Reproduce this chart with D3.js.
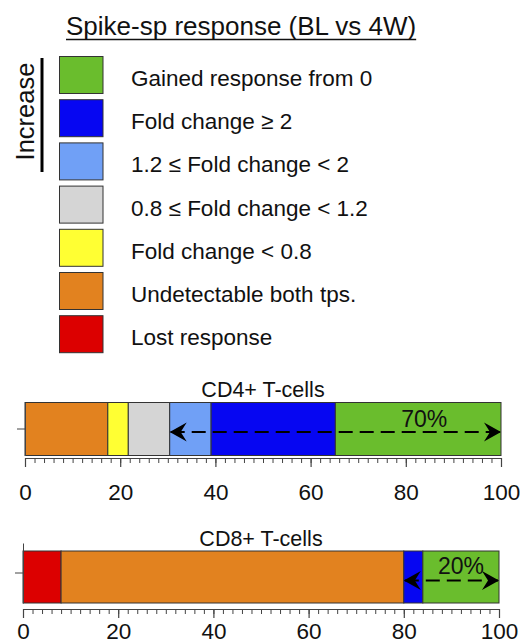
<!DOCTYPE html>
<html>
<head>
<meta charset="utf-8">
<script src="https://cdn.jsdelivr.net/npm/d3@7"></script>
<style>
  body { margin: 0; background: #fff; }
  svg { display: block; font-family: "Liberation Sans", Arial, sans-serif; }
</style>
</head>
<body>
<div id="container"></div>
<script>
/* DATA */
const chartTitle = "Spike-sp response (BL vs 4W)";
const categories = ["gained", "fc2", "fc12", "fc08", "fcLow", "undet", "lost"];
const legendLabels = ["Gained response from 0", "Fold change \u2265 2", "1.2 \u2264 Fold change < 2",
  "0.8 \u2264 Fold change < 1.2", "Fold change < 0.8", "Undetectable both tps.", "Lost response"];
const colors = ["#6abd2d", "#0606f2", "#70a0f6", "#d5d5d5", "#ffff33", "#e2821f", "#dc0000"];
const increaseKeys = ["gained", "fc2", "fc12"];

const panels = ["CD4+ T-cells", "CD8+ T-cells"];
// % of participants per category, same order as categories
const cd4Values = [34.8, 26.1, 8.7, 8.7, 4.3, 17.4, 0];
const cd8Values = [16, 4, 0, 0, 0, 72, 8];
const increaseLabels = ["70%", "20%"];
const xTicks = [0, 20, 40, 60, 80, 100];

/* CONSTANTS */
const width = 520, height = 644;
const layout = [
  { x0: 25, x1: 501, top: 402.5, h: 53, axisY: 458, titleY: 397, tickY: 499.5, arrowDy: 3, labelDy: -5, labelDx: 6 },
  { x0: 23, x1: 499, top: 551, h: 52, axisY: 609, titleY: 546, tickY: 639, arrowDy: 3.5, labelDy: -7, labelDx: 0 }
];

const svg = d3.select("#container")
  .append("svg")
  .attr("width", width)
  .attr("height", height);

/* MARKERS */
const defs = svg.append("defs");
defs.append("marker")
  .attr("id", "arrow")
  .attr("viewBox", "-17 -10 19 20")
  .attr("refX", 0).attr("refY", 0)
  .attr("markerWidth", 19).attr("markerHeight", 20)
  .attr("markerUnits", "userSpaceOnUse")
  .attr("orient", "auto-start-reverse")
  .append("path")
  .attr("d", "M1,0 L-16,-9.5 L-10,0 L-16,9.5 Z")
  .attr("fill", "#000");

/* LEGEND */
const title = svg.append("text")
  .attr("x", 66).attr("y", 35)
  .attr("font-size", 26)
  .attr("fill", "#111")
  .text(chartTitle);
const tLen = title.node().getComputedTextLength();
svg.append("line")
  .attr("x1", 66).attr("x2", 66 + tLen)
  .attr("y1", 39.5).attr("y2", 39.5)
  .attr("stroke", "#111").attr("stroke-width", 1.5);

const legendY = d3.scaleLinear().domain([0, 1]).range([56.5, 99.7]);
const legend = svg.append("g");
const rows = legend.selectAll("g")
  .data(categories)
  .join("g")
  .attr("transform", (d, i) => `translate(0,${legendY(i)})`);
rows.append("rect")
  .attr("x", 59.5).attr("y", 0)
  .attr("width", 43.5).attr("height", 37)
  .attr("fill", (d, i) => colors[i])
  .attr("stroke", "#333").attr("stroke-width", 1);
rows.append("text")
  .attr("x", 131).attr("y", 29.5)
  .attr("font-size", 22.5)
  .attr("fill", "#111")
  .text((d, i) => legendLabels[i]);

svg.append("text")
  .attr("transform", "translate(33.5,111.5) rotate(-90)")
  .attr("text-anchor", "middle")
  .attr("font-size", 25.5)
  .attr("fill", "#111")
  .text("Increase");
svg.append("line")
  .attr("x1", 42).attr("x2", 42)
  .attr("y1", 58).attr("y2", 172)
  .attr("stroke", "#000").attr("stroke-width", 3);

/* BARS */
const rowsData = [cd4Values, cd8Values].map((vals, p) => {
  const row = { panel: panels[p] };
  categories.forEach((c, i) => row[c] = vals[i]);
  return row;
});

const stack = d3.stack().keys(categories.slice().reverse());

rowsData.forEach((row, p) => {
  const L = layout[p];
  const xScale = d3.scaleLinear().domain([0, 100]).range([L.x0, L.x1]);
  const series = stack([row]);
  const g = svg.append("g");

  g.append("text")
    .attr("x", (L.x0 + L.x1) / 2).attr("y", L.titleY)
    .attr("text-anchor", "middle")
    .attr("font-size", 21.5)
    .attr("fill", "#111")
    .text(row.panel);

  g.selectAll("rect")
    .data(series.filter(s => s[0][1] - s[0][0] > 0))
    .join("rect")
    .attr("x", s => xScale(s[0][0]))
    .attr("width", s => xScale(s[0][1]) - xScale(s[0][0]))
    .attr("y", L.top)
    .attr("height", L.h)
    .attr("fill", s => colors[categories.indexOf(s.key)])
    .attr("stroke", "#333")
    .attr("stroke-width", 1);

  // y axis
  const yScale = d3.scaleBand().domain([row.panel]).range([L.top - (p ? 8 : 0), L.top + L.h]);
  g.append("g")
    .attr("transform", `translate(${L.x0},0)`)
    .call(d3.axisLeft(yScale).tickSize(8).tickSizeOuter(0).tickFormat(""))
    .call(a => a.selectAll("line, path").attr("stroke", "#444"));

  // x axis: minor + major
  g.append("g")
    .attr("transform", `translate(0,${L.axisY})`)
    .call(d3.axisBottom(xScale).tickValues(d3.range(0, 101, 2)).tickSize(5).tickSizeOuter(0).tickFormat(""))
    .call(a => a.selectAll("line, path").attr("stroke", "#444"));
  const major = g.append("g")
    .attr("transform", `translate(0,${L.axisY})`)
    .call(d3.axisBottom(xScale).tickValues(xTicks).tickSize(9).tickSizeOuter(0));
  major.select(".domain").remove();
  major.selectAll("line").attr("stroke", "#444").attr("stroke-width", 1.2);
  major.selectAll("text")
    .attr("y", L.tickY - L.axisY)
    .attr("dy", 0)
    .attr("font-size", 22.5)
    .attr("font-family", "Liberation Sans, Arial, sans-serif")
    .attr("fill", "#111");

  // increase arrow
  const incStart = series.find(s => s.key === increaseKeys[increaseKeys.length - 1])[0][0];
  const gained = series.find(s => s.key === "gained")[0];
  const ay = L.top + L.h / 2 + L.arrowDy;
  g.append("line")
    .attr("x1", xScale(incStart) + 1).attr("x2", xScale(100) - 1)
    .attr("y1", ay).attr("y2", ay)
    .attr("stroke", "#000").attr("stroke-width", 2.2)
    .attr("stroke-dasharray", "14,7")
    .attr("marker-start", "url(#arrow)")
    .attr("marker-end", "url(#arrow)");
  g.append("text")
    .attr("x", xScale((gained[0] + gained[1]) / 2) + L.labelDx)
    .attr("y", ay + L.labelDy)
    .attr("text-anchor", "middle")
    .attr("font-size", 23)
    .attr("fill", "#111")
    .text(increaseLabels[p]);
});
</script>
</body>
</html>
